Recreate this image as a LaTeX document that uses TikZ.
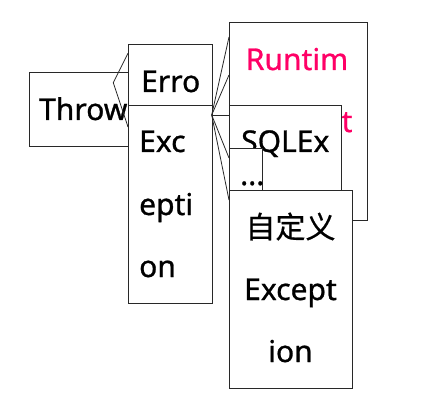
\documentclass[tikz,border=0pt]{standalone}
\usepackage{fontspec}
\setmainfont{Noto Sans}[FakeBold=0.9]
\newfontfamily\cjk{Noto Sans CJK SC}[FakeBold=0.6]
\definecolor{rtpink}{RGB}{255,0,102}
\definecolor{edge}{RGB}{40,40,40}
\begin{document}
\begin{tikzpicture}[x=1pt,y=-1pt,
  box/.style={draw=edge, line width=1pt, fill=white, inner sep=0pt, anchor=north west},
  txt/.style={inner sep=0pt, font=\fontsize{30}{62}\selectfont},
  link/.style={draw=edge, line width=0.8pt}]
\useasboundingbox (0,0) rectangle (428,414);
% Throwable
\node[box, minimum width=121pt, minimum height=74pt] (thr) at (29,72) {};
\node[txt, anchor=base west] (thrt) at (39,120) {Throwable};
\coordinate (tp) at (113.3,82.7);
% Error / Exception
\node[box, minimum width=83.5pt, minimum height=61pt] (err) at (128,44) {};
\node[txt, anchor=base west] (errt) at (141,92) {Erro};
\node[box, minimum width=83.5pt, minimum height=198pt] (exc) at (128,105) {};
\node[txt, anchor=base west] (exc1) at (139,152) {Exc};
\node[txt, anchor=base west] (exc2) at (139,215) {epti};
\node[txt, anchor=base west] (exc3) at (139,277) {on};
\draw[link] ([yshift=-9.3pt]err.north west) -- (tp) -- ([yshift=-22pt]exc.north west);
\coordinate (ep) at (211.7,115);
% Runtime
\node[box, minimum width=138pt, minimum height=198pt] (rte) at (229,22) {};
\node[txt, anchor=base, text=rtpink] (rte1) at (297,70) {Runtim};
\node[txt, anchor=base east, text=rtpink] (rte2) at (352.7,132) {t};
% SQLException
\node[box, minimum width=112pt, minimum height=85pt] (sql) at (229,105) {};
\node[txt, anchor=base west] (sqlt) at (241,152) {SQLEx};
% dots
\node[box, minimum width=32.5pt, minimum height=42pt] (dots) at (229,148) {};
\node[txt, anchor=base west] (dotst) at (240,185) {...};
% custom
\node[box, minimum width=123pt, minimum height=198pt] (cust) at (229,190) {};
\node[txt, anchor=base] (cust1) at (290.5,238) {\cjk 自定义};
\node[txt, anchor=base] (cust2) at (290.5,300) {Except};
\node[txt, anchor=base] (cust3) at (290.5,362) {ion};
% Exception fan
\draw[link] (ep) -- ([yshift=-15pt]rte.north west);
\draw[link] (ep) -- ([yshift=-53pt]rte.north west);
\draw[link] (ep) -- ([yshift=-10pt]sql.north west);
\draw[link] (ep) -- ([yshift=-10pt]dots.north west);
\draw[link] (ep) -- ([yshift=-10pt]cust.north west);
\end{tikzpicture}
\end{document}
